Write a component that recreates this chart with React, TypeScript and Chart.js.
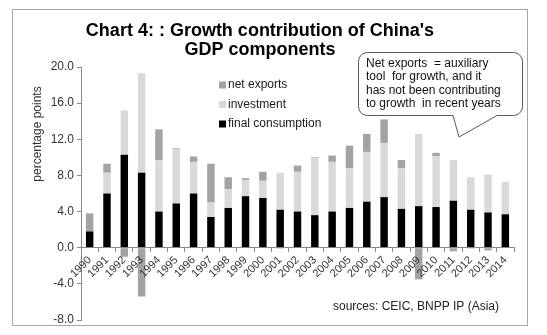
import React, { useEffect, useRef } from "react";
import { Chart, registerables } from "chart.js";

Chart.register(...registerables);

const years = [
  "1990", "1991", "1992", "1993", "1994", "1995", "1996", "1997", "1998", "1999",
  "2000", "2001", "2002", "2003", "2004", "2005", "2006", "2007", "2008", "2009",
  "2010", "2011", "2012", "2013", "2014",
];
const finalConsumption = [1.8, 6.0, 10.3, 8.3, 4.0, 4.9, 6.0, 3.4, 4.4, 5.7, 5.5, 4.2, 4.0, 3.6, 4.0, 4.4, 5.1, 5.6, 4.3, 4.6, 4.5, 5.2, 4.2, 3.9, 3.7];
const investment = [0.0, 2.3, 4.9, 11.0, 5.7, 6.0, 3.5, 1.6, 2.1, 1.8, 1.9, 4.1, 4.4, 6.3, 5.5, 4.4, 5.5, 6.0, 4.5, 8.0, 5.6, 4.5, 3.6, 4.2, 3.6];
const netExports = [2.0, 1.0, -1.0, -5.4, 3.4, 0.1, 0.6, 4.3, 1.3, 0.2, 1.0, -0.1, 0.7, 0.1, 0.7, 2.5, 2.0, 2.6, 0.9, -3.5, 0.4, -0.4, -0.1, -0.3, 0.0];

const titleLines = ["Chart 4: : Growth contribution of China's", "GDP components"];
const yAxisTitle = "percentage points";
const calloutLines = [
  "Net exports  = auxiliary",
  "tool  for growth, and it",
  "has not been contributing",
  "to growth  in recent years",
];
const sourceText = "sources: CEIC, BNPP IP (Asia)";
const yMin = -8;
const yMax = 20;
const yStep = 4;

const FONT = "'Liberation Sans', Arial, sans-serif";

const decorPlugin = {
  id: "decor",
  beforeDraw(chart: any) {
    const ctx = chart.ctx;
    ctx.save();
    ctx.fillStyle = "#ffffff";
    ctx.fillRect(0, 0, chart.width, chart.height);
    ctx.strokeStyle = "#a6a6a6";
    ctx.lineWidth = 1;
    ctx.strokeRect(12.5, 9.5, 515, 316);
    ctx.restore();
  },
  afterDraw(chart: any) {
    const ctx = chart.ctx;
    ctx.save();
    // title
    ctx.fillStyle = "#000";
    ctx.font = `bold 18px ${FONT}`;
    ctx.textAlign = "center";
    ctx.textBaseline = "alphabetic";
    titleLines.forEach((t, i) => ctx.fillText(t, 260, 35.5 + i * 19.5));

    // y title
    ctx.save();
    ctx.translate(38, 134);
    ctx.rotate(-Math.PI / 2);
    ctx.font = `12px ${FONT}`;
    ctx.fillStyle = "#333";
    ctx.textAlign = "center";
    ctx.textBaseline = "middle";
    ctx.fillText(yAxisTitle, 0, 0);
    ctx.restore();

    // legend (reverse order)
    const ds = chart.data.datasets;
    const order = [2, 1, 0];
    ctx.font = `12px ${FONT}`;
    ctx.textAlign = "left";
    ctx.textBaseline = "middle";
    order.forEach((idx, i) => {
      const y = 85 + i * 19.5;
      ctx.fillStyle = ds[idx].backgroundColor;
      ctx.fillRect(219, y - 3.5, 7, 7);
      ctx.fillStyle = "#1a1a1a";
      ctx.fillText(ds[idx].label, 228, y);
    });

    // callout
    const L = 358.5, T = 52.5, R = 522.5, B = 115.5, r = 9;
    ctx.beginPath();
    ctx.moveTo(L + r, T);
    ctx.lineTo(R - r, T);
    ctx.arcTo(R, T, R, T + r, r);
    ctx.lineTo(R, B - r);
    ctx.arcTo(R, B, R - r, B, r);
    ctx.lineTo(497, B);
    ctx.lineTo(459, 137);
    ctx.lineTo(453, B);
    ctx.lineTo(L + r, B);
    ctx.arcTo(L, B, L, B - r, r);
    ctx.lineTo(L, T + r);
    ctx.arcTo(L, T, L + r, T, r);
    ctx.closePath();
    ctx.fillStyle = "#fff";
    ctx.fill();
    ctx.strokeStyle = "#595959";
    ctx.lineWidth = 1;
    ctx.stroke();
    ctx.fillStyle = "#111";
    ctx.font = `12px ${FONT}`;
    ctx.textAlign = "left";
    ctx.textBaseline = "alphabetic";
    calloutLines.forEach((t, i) => ctx.fillText(t, 366, 66.5 + i * 13.5));

    // source
    ctx.fillStyle = "#222";
    ctx.fillText(sourceText, 333, 310);
    ctx.restore();
  },
};

export default function App() {
  const ref = useRef<HTMLCanvasElement | null>(null);
  useEffect(() => {
    if (!ref.current) return;
    Chart.defaults.font.family = FONT;
    const chart = new Chart(ref.current, {
      type: "bar",
      data: {
        labels: years,
        datasets: [
          { label: "final consumption", data: finalConsumption, backgroundColor: "#000000", barPercentage: 0.43, categoryPercentage: 1 },
          { label: "investment", data: investment, backgroundColor: "#d9d9d9", barPercentage: 0.43, categoryPercentage: 1 },
          { label: "net exports", data: netExports, backgroundColor: "#a3a3a3", barPercentage: 0.43, categoryPercentage: 1 },
        ],
      },
      options: {
        animation: false,
        responsive: false,
        devicePixelRatio: 1,
        layout: { padding: { top: 67, bottom: 15, left: 0, right: 33 } },
        plugins: {
          legend: { display: false },
          title: { display: false },
          tooltip: { enabled: false },
        },
        scales: {
          x: {
            stacked: true,
            position: { y: 0 } as any,
            grid: { display: true, drawOnChartArea: false, drawTicks: true, tickLength: 4, color: "#888", offset: true, z: 1 } as any,
            border: { display: true, color: "#888", z: 1 } as any,
            ticks: {
              autoSkip: false,
              minRotation: 45,
              maxRotation: 45,
              padding: 2,
              color: "#333",
              font: { size: 11 },
              z: 1,
            } as any,
          },
          y: {
            stacked: true,
            min: yMin,
            max: yMax,
            afterFit: (scale: any) => { scale.width = 81; },
            grid: { display: true, drawOnChartArea: false, tickLength: 4, color: "#888" },
            border: { display: true, color: "#888" },
            ticks: {
              stepSize: yStep,
              color: "#333",
              font: { size: 12 },
              padding: 3,
              callback: (v: any) => Number(v).toFixed(1),
            },
          },
        },
      },
      plugins: [decorPlugin],
    });
    return () => chart.destroy();
  }, []);
  return (
    <div style={{ position: "absolute", left: 0, top: 0, width: 547, height: 335 }}>
      <canvas ref={ref} width={547} height={335} style={{ display: "block", width: 547, height: 335 }} />
    </div>
  );
}
